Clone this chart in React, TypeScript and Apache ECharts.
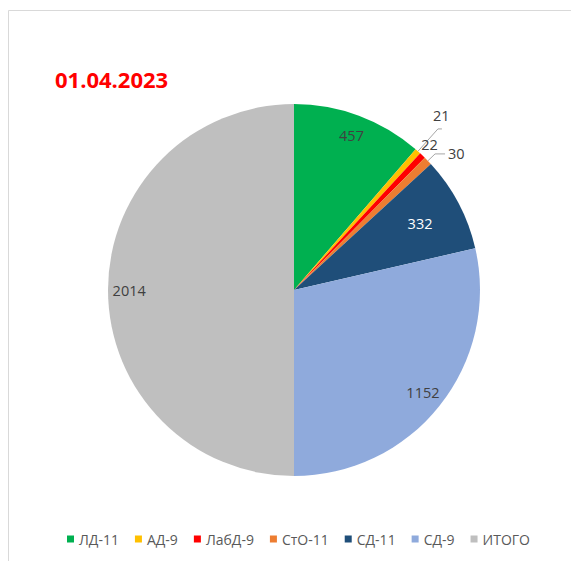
import React, { useEffect, useRef } from "react";
import * as echarts from "echarts";

const categories = ["ЛД-11", "АД-9", "ЛабД-9", "СтО-11", "СД-11", "СД-9", "ИТОГО"];
const values = [457, 21, 22, 30, 332, 1152, 2014];
const colors = ["#00B050", "#FFC000", "#FF0000", "#ED7D31", "#1F4E79", "#8FAADC", "#BFBFBF"];
const titleText = "01.04.2023";

const FONT = "'Open Sans', 'Noto Sans', sans-serif";
const CENTER = [294, 290];
const R = 186;

export default function App() {
  const ref = useRef<HTMLDivElement>(null);
  useEffect(() => {
    if (!ref.current) return;
    const chart = echarts.init(ref.current, undefined, { renderer: "svg" });

    const mainData = categories.map((name, i) => {
      const d: any = { name, value: values[i], itemStyle: { color: colors[i] } };
      if (i === 1) {
        d.label = { show: true };
        d.labelLine = { show: true, length: 30, length2: 4 };
      } else if (i === 2) {
        d.label = { show: true };
        d.labelLine = { show: false, length: 4, length2: 0 };
      } else if (i === 3) {
        d.label = { show: true };
        d.labelLine = { show: true, length: 10, length2: 10 };
      } else {
        d.label = { show: false };
        d.labelLine = { show: false };
      }
      return d;
    });

    const overlay = (radius: number, showIdx: number[], labelColor: (i: number) => string) => ({
      type: "pie",
      silent: true,
      center: CENTER,
      radius: [0, radius],
      startAngle: 90,
      clockwise: true,
      legendHoverLink: false,
      emphasis: { disabled: true },
      itemStyle: { color: "transparent", borderWidth: 0 },
      labelLine: { show: false },
      label: { formatter: "{c}" },
      z: 3,
      data: categories.map((name, i) => ({
        name,
        value: values[i],
        itemStyle: { color: "rgba(0,0,0,0)" },
        label: {
          show: showIdx.includes(i),
          position: "inside",
          color: labelColor(i),
          fontSize: 14.5,
          fontFamily: FONT,
        },
      })),
    });

    chart.setOption({
      animation: false,
      backgroundColor: "#ffffff",
      title: {
        text: titleText,
        left: 55,
        top: 68,
        padding: 0,
        textStyle: { color: "#FF0000", fontSize: 22, fontWeight: "bold", fontFamily: FONT },
      },
      legend: {
        data: categories,
        left: 67,
        top: 532,
        padding: 0,
        itemWidth: 7,
        itemHeight: 7,
        itemGap: 16,
        icon: "rect",
        textStyle: { color: "#595959", fontSize: 14, fontFamily: FONT },
      },
      graphic: [
        {
          type: "rect",
          shape: { x: 8.5, y: 10.5, width: 700, height: 700 },
          style: { fill: "none", stroke: "#D9D9D9", lineWidth: 1 },
          silent: true,
          z: -10,
        },
      ],
      series: [
        {
          type: "pie",
          center: CENTER,
          radius: [0, R],
          startAngle: 90,
          clockwise: true,
          avoidLabelOverlap: false,
          emphasis: { disabled: true },
          itemStyle: { borderWidth: 0 },
          label: {
            position: "outside",
            color: "#404040",
            fontSize: 14.5,
            fontFamily: FONT,
            distanceToLabelLine: 3,
            formatter: "{c}",
          },
          labelLine: { lineStyle: { color: "#A6A6A6", width: 1 } },
          labelLayout: (p: any) => {
            if (p.dataIndex === 1) return { dx: -12, dy: -13 };
            if (p.dataIndex === 2) return { dx: -7, dy: -8 };
            return {};
          },
          data: mainData,
        },
        overlay(R * 0.87 * 2, [0, 5, 6], () => "#404040"),
        overlay(R * 0.75 * 2, [4], () => "#FFFFFF"),
      ],
    });
    return () => chart.dispose();
  }, []);
  return (
    <div
      ref={ref}
      style={{ position: "fixed", left: 0, top: 0, width: 571, height: 561 }}
    />
  );
}
